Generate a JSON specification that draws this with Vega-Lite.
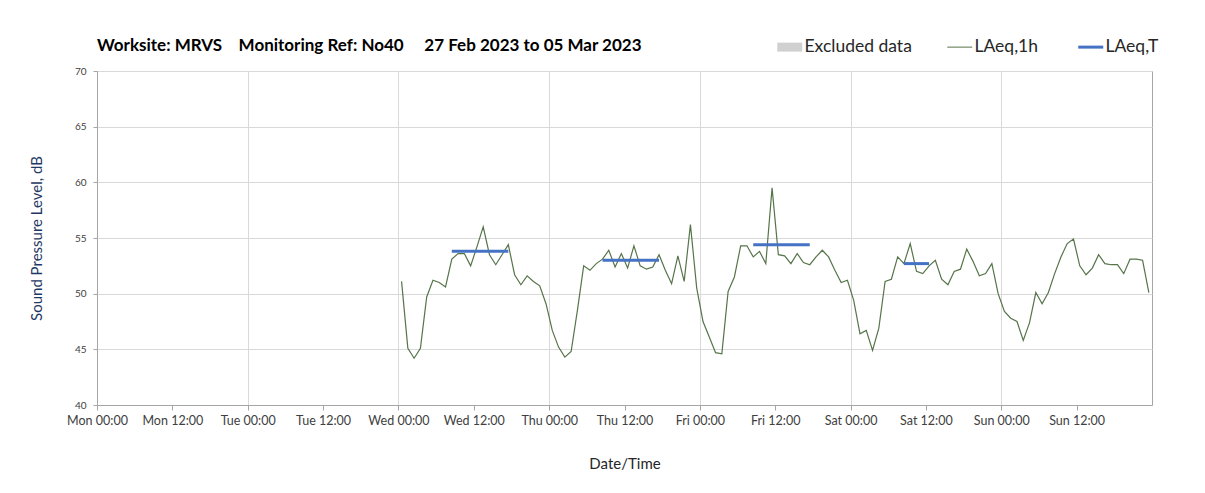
{
  "$schema": "https://vega.github.io/schema/vega-lite/v6.json",
  "width": 1055,
  "height": 334,
  "autosize": {"type": "none"},
  "padding": {"left": 97, "top": 71, "right": 53, "bottom": 88},
  "background": "white",
  "title": {
    "text": "Worksite: MRVS\u00a0\u00a0\u00a0 Monitoring Ref: No40\u00a0\u00a0\u00a0\u00a0 27 Feb 2023 to 05 Mar 2023",
    "anchor": "start",
    "frame": "group",
    "font": "Lato",
    "fontSize": 17,
    "fontWeight": "bold",
    "color": "#000000",
    "offset": -17
  },
  "config": {
    "view": {"stroke": "#a6a6a6", "strokeWidth": 1},
    "axis": {
      "labelFont": "Lato",
      "titleFont": "Lato",
      "labelColor": "#404040",
      "domainColor": "#a6a6a6",
      "tickColor": "#a6a6a6",
      "gridColor": "#d9d9d9",
      "titleFontWeight": "normal"
    }
  },
  "datasets": {
    "hourly": [
      {"t": "2023-03-01T00:30", "v": 51.1}, {"t": "2023-03-01T01:30", "v": 45.1}, {"t": "2023-03-01T02:30", "v": 44.2}, {"t": "2023-03-01T03:30", "v": 45.1},
      {"t": "2023-03-01T04:30", "v": 49.7}, {"t": "2023-03-01T05:30", "v": 51.2}, {"t": "2023-03-01T06:30", "v": 51.0}, {"t": "2023-03-01T07:30", "v": 50.6},
      {"t": "2023-03-01T08:30", "v": 53.1}, {"t": "2023-03-01T09:30", "v": 53.6}, {"t": "2023-03-01T10:30", "v": 53.6}, {"t": "2023-03-01T11:30", "v": 52.5},
      {"t": "2023-03-01T12:30", "v": 54.2}, {"t": "2023-03-01T13:30", "v": 56.0}, {"t": "2023-03-01T14:30", "v": 53.5}, {"t": "2023-03-01T15:30", "v": 52.6},
      {"t": "2023-03-01T16:30", "v": 53.5}, {"t": "2023-03-01T17:30", "v": 54.4}, {"t": "2023-03-01T18:30", "v": 51.7}, {"t": "2023-03-01T19:30", "v": 50.8},
      {"t": "2023-03-01T20:30", "v": 51.6}, {"t": "2023-03-01T21:30", "v": 51.1}, {"t": "2023-03-01T22:30", "v": 50.7}, {"t": "2023-03-01T23:30", "v": 49.1},
      {"t": "2023-03-02T00:30", "v": 46.7}, {"t": "2023-03-02T01:30", "v": 45.2}, {"t": "2023-03-02T02:30", "v": 44.3}, {"t": "2023-03-02T03:30", "v": 44.8},
      {"t": "2023-03-02T04:30", "v": 48.5}, {"t": "2023-03-02T05:30", "v": 52.5}, {"t": "2023-03-02T06:30", "v": 52.1}, {"t": "2023-03-02T07:30", "v": 52.7},
      {"t": "2023-03-02T08:30", "v": 53.1}, {"t": "2023-03-02T09:30", "v": 53.9}, {"t": "2023-03-02T10:30", "v": 52.4}, {"t": "2023-03-02T11:30", "v": 53.6},
      {"t": "2023-03-02T12:30", "v": 52.3}, {"t": "2023-03-02T13:30", "v": 54.3}, {"t": "2023-03-02T14:30", "v": 52.5}, {"t": "2023-03-02T15:30", "v": 52.2},
      {"t": "2023-03-02T16:30", "v": 52.4}, {"t": "2023-03-02T17:30", "v": 53.5}, {"t": "2023-03-02T18:30", "v": 52.1}, {"t": "2023-03-02T19:30", "v": 50.9},
      {"t": "2023-03-02T20:30", "v": 53.4}, {"t": "2023-03-02T21:30", "v": 51.1}, {"t": "2023-03-02T22:30", "v": 56.2}, {"t": "2023-03-02T23:30", "v": 50.5},
      {"t": "2023-03-03T00:30", "v": 47.5}, {"t": "2023-03-03T01:30", "v": 46.1}, {"t": "2023-03-03T02:30", "v": 44.7}, {"t": "2023-03-03T03:30", "v": 44.6},
      {"t": "2023-03-03T04:30", "v": 50.2}, {"t": "2023-03-03T05:30", "v": 51.5}, {"t": "2023-03-03T06:30", "v": 54.3}, {"t": "2023-03-03T07:30", "v": 54.3},
      {"t": "2023-03-03T08:30", "v": 53.3}, {"t": "2023-03-03T09:30", "v": 53.8}, {"t": "2023-03-03T10:30", "v": 52.7}, {"t": "2023-03-03T11:30", "v": 59.5},
      {"t": "2023-03-03T12:30", "v": 53.5}, {"t": "2023-03-03T13:30", "v": 53.4}, {"t": "2023-03-03T14:30", "v": 52.7}, {"t": "2023-03-03T15:30", "v": 53.6},
      {"t": "2023-03-03T16:30", "v": 52.8}, {"t": "2023-03-03T17:30", "v": 52.6}, {"t": "2023-03-03T18:30", "v": 53.3}, {"t": "2023-03-03T19:30", "v": 53.9},
      {"t": "2023-03-03T20:30", "v": 53.3}, {"t": "2023-03-03T21:30", "v": 52.1}, {"t": "2023-03-03T22:30", "v": 51.0}, {"t": "2023-03-03T23:30", "v": 51.2},
      {"t": "2023-03-04T00:30", "v": 49.4}, {"t": "2023-03-04T01:30", "v": 46.4}, {"t": "2023-03-04T02:30", "v": 46.7}, {"t": "2023-03-04T03:30", "v": 44.9},
      {"t": "2023-03-04T04:30", "v": 46.9}, {"t": "2023-03-04T05:30", "v": 51.1}, {"t": "2023-03-04T06:30", "v": 51.3}, {"t": "2023-03-04T07:30", "v": 53.3},
      {"t": "2023-03-04T08:30", "v": 52.7}, {"t": "2023-03-04T09:30", "v": 54.5}, {"t": "2023-03-04T10:30", "v": 52.0}, {"t": "2023-03-04T11:30", "v": 51.8},
      {"t": "2023-03-04T12:30", "v": 52.5}, {"t": "2023-03-04T13:30", "v": 53.0}, {"t": "2023-03-04T14:30", "v": 51.3}, {"t": "2023-03-04T15:30", "v": 50.8},
      {"t": "2023-03-04T16:30", "v": 52.0}, {"t": "2023-03-04T17:30", "v": 52.2}, {"t": "2023-03-04T18:30", "v": 54.0}, {"t": "2023-03-04T19:30", "v": 52.9},
      {"t": "2023-03-04T20:30", "v": 51.6}, {"t": "2023-03-04T21:30", "v": 51.8}, {"t": "2023-03-04T22:30", "v": 52.7}, {"t": "2023-03-04T23:30", "v": 50.0},
      {"t": "2023-03-05T00:30", "v": 48.4}, {"t": "2023-03-05T01:30", "v": 47.8}, {"t": "2023-03-05T02:30", "v": 47.5}, {"t": "2023-03-05T03:30", "v": 45.8},
      {"t": "2023-03-05T04:30", "v": 47.4}, {"t": "2023-03-05T05:30", "v": 50.1}, {"t": "2023-03-05T06:30", "v": 49.1}, {"t": "2023-03-05T07:30", "v": 50.1},
      {"t": "2023-03-05T08:30", "v": 51.8}, {"t": "2023-03-05T09:30", "v": 53.3}, {"t": "2023-03-05T10:30", "v": 54.5}, {"t": "2023-03-05T11:30", "v": 54.9},
      {"t": "2023-03-05T12:30", "v": 52.5}, {"t": "2023-03-05T13:30", "v": 51.7}, {"t": "2023-03-05T14:30", "v": 52.3}, {"t": "2023-03-05T15:30", "v": 53.5},
      {"t": "2023-03-05T16:30", "v": 52.7}, {"t": "2023-03-05T17:30", "v": 52.6}, {"t": "2023-03-05T18:30", "v": 52.6}, {"t": "2023-03-05T19:30", "v": 51.8},
      {"t": "2023-03-05T20:30", "v": 53.1}, {"t": "2023-03-05T21:30", "v": 53.1}, {"t": "2023-03-05T22:30", "v": 53.0}, {"t": "2023-03-05T23:30", "v": 50.1}
    ],
    "period": [
      {"t": "2023-03-01T08:30", "v": 53.8, "p": "Wed"}, {"t": "2023-03-01T17:30", "v": 53.8, "p": "Wed"},
      {"t": "2023-03-02T08:30", "v": 53.0, "p": "Thu"}, {"t": "2023-03-02T17:30", "v": 53.0, "p": "Thu"},
      {"t": "2023-03-03T08:30", "v": 54.4, "p": "Fri"}, {"t": "2023-03-03T17:30", "v": 54.4, "p": "Fri"},
      {"t": "2023-03-04T08:30", "v": 52.7, "p": "Sat"}, {"t": "2023-03-04T12:30", "v": 52.7, "p": "Sat"}
    ]
  },
  "layer": [
    {
      "data": {"name": "hourly"},
      "mark": {"type": "line", "strokeWidth": 1.2},
      "encoding": {
        "x": {
          "field": "t",
          "type": "temporal",
          "scale": {
            "domain": [
              {"year": 2023, "month": 2, "date": 27, "hours": 0},
              {"year": 2023, "month": 3, "date": 6, "hours": 0}
            ]
          },
          "axis": {
            "title": "Date/Time",
            "format": "%a %H:%M",
            "values": [
              {"year": 2023, "month": 2, "date": 27, "hours": 0}, {"year": 2023, "month": 2, "date": 27, "hours": 12},
              {"year": 2023, "month": 2, "date": 28, "hours": 0}, {"year": 2023, "month": 2, "date": 28, "hours": 12},
              {"year": 2023, "month": 3, "date": 1, "hours": 0}, {"year": 2023, "month": 3, "date": 1, "hours": 12},
              {"year": 2023, "month": 3, "date": 2, "hours": 0}, {"year": 2023, "month": 3, "date": 2, "hours": 12},
              {"year": 2023, "month": 3, "date": 3, "hours": 0}, {"year": 2023, "month": 3, "date": 3, "hours": 12},
              {"year": 2023, "month": 3, "date": 4, "hours": 0}, {"year": 2023, "month": 3, "date": 4, "hours": 12},
              {"year": 2023, "month": 3, "date": 5, "hours": 0}, {"year": 2023, "month": 3, "date": 5, "hours": 12}
            ],
            "labelFontSize": 12.5,
            "labelOverlap": false,
            "labelFlush": false,
            "tickSize": 5,
            "labelPadding": 4,
            "titleFontSize": 15,
            "titleColor": "#262626",
            "titlePadding": 30,
            "grid": true,
            "gridOpacity": {"condition": {"test": "hours(datum.value) === 0", "value": 1}, "value": 0}
          }
        },
        "y": {
          "field": "v",
          "type": "quantitative",
          "scale": {"domain": [40, 70], "zero": false, "nice": false},
          "axis": {
            "title": "Sound Pressure Level, dB",
            "values": [40, 45, 50, 55, 60, 65, 70],
            "labelFontSize": 10,
            "tickSize": 4,
            "labelPadding": 7,
            "titleFontSize": 15,
            "titleColor": "#1f3864",
            "titlePadding": 30,
            "grid": true
          }
        },
        "color": {
          "datum": "LAeq,1h",
          "type": "nominal",
          "scale": {
            "domain": ["Excluded data", "LAeq,1h", "LAeq,T"],
            "range": ["#d0d0d0", "#56744a", "#4472c4"]
          },
          "legend": {
            "title": null,
            "orient": "none",
            "legendX": 684,
            "legendY": -33,
            "direction": "horizontal",
            "padding": 0,
            "columnPadding": 33,
            "labelOffset": 6,
            "labelFont": "Lato",
            "labelFontSize": 17.5,
            "labelColor": "#262626",
            "symbolSize": 625,
            "encoding": {
              "symbols": {
                "shape": {"value": {"expr": "datum.value === 'Excluded data' ? 'M-1,-0.36H1V0.36H-1Z' : 'stroke'"}},
                "fill": {"value": {"expr": "datum.value === 'Excluded data' ? '#d0d0d0' : 'transparent'"}},
                "stroke": {"value": {"expr": "datum.value === 'Excluded data' ? '#d0d0d0' : (datum.value === 'LAeq,T' ? '#4472c4' : '#56744a')"}},
                "strokeWidth": {"value": {"expr": "datum.value === 'Excluded data' ? 0 : (datum.value === 'LAeq,T' ? 3 : 1)"}}
              }
            }
          }
        }
      }
    },
    {
      "data": {"name": "period"},
      "mark": {"type": "line", "strokeWidth": 3},
      "encoding": {
        "x": {"field": "t", "type": "temporal"},
        "y": {"field": "v", "type": "quantitative"},
        "detail": {"field": "p", "type": "nominal"},
        "color": {"datum": "LAeq,T", "type": "nominal"}
      }
    }
  ]
}
